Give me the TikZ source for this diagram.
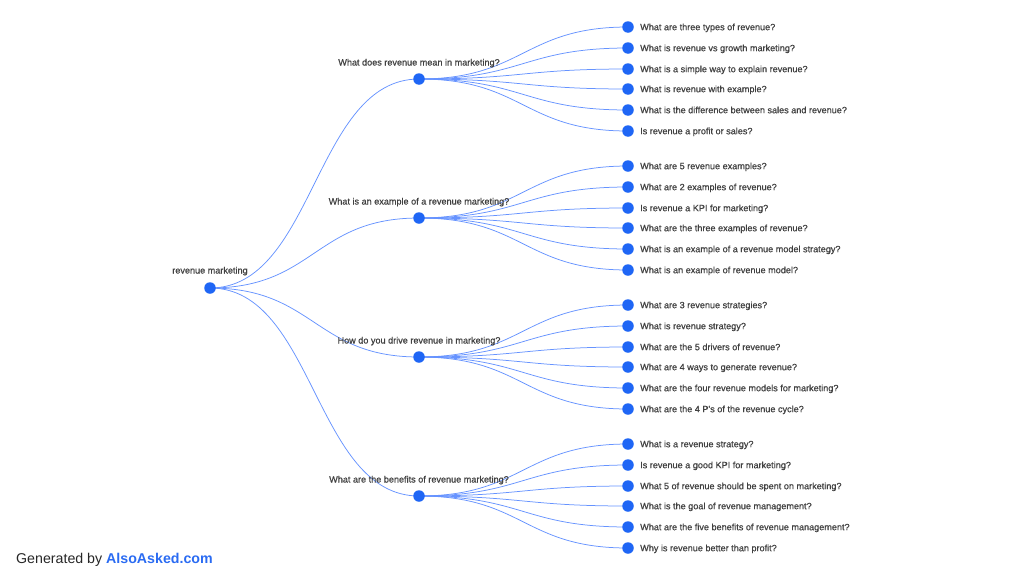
\documentclass[tikz,border=0pt]{standalone}
\usepackage{fontspec}
\setmainfont{Liberation Sans}
\newfontfamily\medfont{Liberation Sans}[FakeBold=0.7]
\usetikzlibrary{backgrounds,calc}
\definecolor{dotblue}{HTML}{1F66F5}
\definecolor{lineblue}{HTML}{6693FF}
\definecolor{txt}{HTML}{404040}
\definecolor{brand}{HTML}{2A6BF2}
\begin{document}
\begin{tikzpicture}[x=1pt,y=-1pt,
  dot/.style={circle,fill=dotblue,inner sep=0pt,minimum size=11.5pt},
  link/.style={lineblue,line width=0.75pt},
  leaftext/.style={anchor=base west,font=\medfont\fontsize{9.1}{10}\selectfont,text=txt,inner sep=0pt},
  midtext/.style={anchor=base,font=\medfont\fontsize{9.1}{10}\selectfont,text=txt,inner sep=0pt}]
\useasboundingbox (0,0) rectangle (1024,576);
\node[dot] (r) at (210,288) {};
\node[midtext] (rt) at (210,273.5) {revenue marketing};
% mids
\foreach \i/\y/\t in {1/79/{What does revenue mean in marketing?},
                      2/218/{What is an example of a revenue marketing?},
                      3/357/{How do you drive revenue in marketing?},
                      4/496/{What are the benefits of revenue marketing?}}{
  \node[dot] (m\i) at (419,\y) {};
  \node[midtext] (mt\i) at (419,\y-13.5) {\t};
}
% leaves
\foreach \i/\j/\y/\t in {
 1/1/27/{What are three types of revenue?},
 1/2/48/{What is revenue vs growth marketing?},
 1/3/69/{What is a simple way to explain revenue?},
 1/4/89/{What is revenue with example?},
 1/5/110/{What is the difference between sales and revenue?},
 1/6/131/{Is revenue a profit or sales?},
 2/1/166/{What are 5 revenue examples?},
 2/2/187/{What are 2 examples of revenue?},
 2/3/208/{Is revenue a KPI for marketing?},
 2/4/228/{What are the three examples of revenue?},
 2/5/249/{What is an example of a revenue model strategy?},
 2/6/270/{What is an example of revenue model?},
 3/1/305/{What are 3 revenue strategies?},
 3/2/326/{What is revenue strategy?},
 3/3/347/{What are the 5 drivers of revenue?},
 3/4/367/{What are 4 ways to generate revenue?},
 3/5/388/{What are the four revenue models for marketing?},
 3/6/409/{What are the 4 P's of the revenue cycle?},
 4/1/444/{What is a revenue strategy?},
 4/2/465/{Is revenue a good KPI for marketing?},
 4/3/486/{What 5 of revenue should be spent on marketing?},
 4/4/506/{What is the goal of revenue management?},
 4/5/527/{What are the five benefits of revenue management?},
 4/6/548/{Why is revenue better than profit?}}{
  \node[dot] (l\i\j) at (628,\y) {};
  \node[leaftext] (lt\i\j) at (640,\y+3.2) {\t};
  \begin{scope}[on background layer]
    \draw[link] let \p1=(m\i.center), \p2=(l\i\j.center) in
      (m\i.center) .. controls ({(\x1+\x2)/2},\y1) and ({(\x1+\x2)/2},\y2) .. (l\i\j.center);
  \end{scope}
}
\begin{scope}[on background layer]
\foreach \i in {1,...,4}{
  \draw[link] let \p1=(r.center), \p2=(m\i.center) in
    (r.center) .. controls ({(\x1+\x2)/2},\y1) and ({(\x1+\x2)/2},\y2) .. (m\i.center);
}
\end{scope}
\node[anchor=base west,inner sep=0pt,font=\fontsize{14.2}{16}\selectfont] (gen) at (16,563) {\textcolor{black!85}{Generated by} \textcolor{brand}{\textbf{AlsoAsked.com}}};
\end{tikzpicture}
\end{document}
